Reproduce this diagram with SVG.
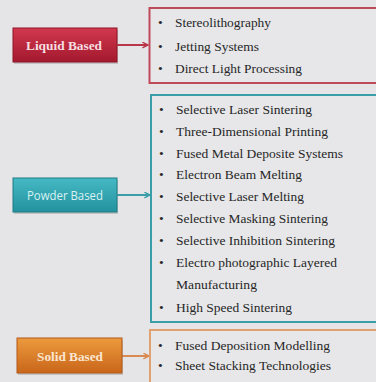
<svg xmlns="http://www.w3.org/2000/svg" width="376" height="382" viewBox="0 0 376 382">
<defs>
<linearGradient id="gRed" x1="0" y1="0" x2="0" y2="1">
<stop offset="0" stop-color="#d2384e"/><stop offset="1" stop-color="#a3192e"/>
</linearGradient>
<linearGradient id="gTeal" x1="0" y1="0" x2="0" y2="1">
<stop offset="0" stop-color="#45b9c4"/><stop offset="1" stop-color="#23929e"/>
</linearGradient>
<linearGradient id="gOrange" x1="0" y1="0" x2="0" y2="1">
<stop offset="0" stop-color="#ec9a3e"/><stop offset="1" stop-color="#c9661a"/>
</linearGradient>
<marker id="aRed" viewBox="0 0 10 10" refX="9" refY="5" markerWidth="7" markerHeight="7" orient="auto" markerUnits="userSpaceOnUse"><path d="M1,1 L9,5 L1,9" fill="none" stroke="#b8354a" stroke-width="2"/></marker>
<marker id="aTeal" viewBox="0 0 10 10" refX="9" refY="5" markerWidth="7" markerHeight="7" orient="auto" markerUnits="userSpaceOnUse"><path d="M1,1 L9,5 L1,9" fill="none" stroke="#3a9ea8" stroke-width="2"/></marker>
<marker id="aOrange" viewBox="0 0 10 10" refX="9" refY="5" markerWidth="7" markerHeight="7" orient="auto" markerUnits="userSpaceOnUse"><path d="M1,1 L9,5 L1,9" fill="none" stroke="#d98a52" stroke-width="2"/></marker>
</defs>
<style>
.item{font-size:13.5px;fill:#262626}
.bul{font-size:13.5px;fill:#262626}
.lblS{font-size:13.5px;font-weight:bold;text-anchor:middle}
.lblP{font-size:12.5px;text-anchor:middle;fill:#d9f1f2}
.shadow{fill:#9a9a9a;opacity:0.45}
</style>
<rect width="376" height="382" fill="#e5e5e7"/>
<g id="connectors">
<line x1="117" y1="45" x2="148" y2="45" stroke="#b8354a" stroke-width="2" marker-end="url(#aRed)"/>
<line x1="117" y1="195" x2="150" y2="195" stroke="#3a9ea8" stroke-width="2" marker-end="url(#aTeal)"/>
<line x1="122" y1="356" x2="149" y2="356" stroke="#d98a52" stroke-width="2" marker-end="url(#aOrange)"/>
</g>
<g id="liquid-label" font-family="Liberation Serif, serif">
<rect x="14" y="30" width="104" height="34" class="shadow"/>
<rect x="13" y="28" width="104" height="34" fill="url(#gRed)" stroke="#8e1526" stroke-width="1"/>
<text x="64" y="50" class="lblS" fill="#f6dde0" textLength="76" lengthAdjust="spacingAndGlyphs">Liquid Based</text>
</g>
<g id="liquid-list" font-family="Liberation Serif, serif">
<rect x="149.5" y="8" width="240" height="75" fill="#e7e7e9" stroke="#bf4a5a" stroke-width="2"/>
<text x="158" y="27" class="bul">•</text><text x="175" y="27" class="item" textLength="96" lengthAdjust="spacingAndGlyphs">Stereolithography</text>
<text x="158" y="51" class="bul">•</text><text x="175" y="51" class="item" textLength="84" lengthAdjust="spacingAndGlyphs">Jetting Systems</text>
<text x="158" y="73" class="bul">•</text><text x="175" y="73" class="item" textLength="127" lengthAdjust="spacingAndGlyphs">Direct Light Processing</text>
</g>
<g id="powder-label" font-family="Open Sans, Liberation Sans, sans-serif">
<rect x="14" y="180" width="104" height="34" class="shadow"/>
<rect x="13" y="178" width="104" height="34" fill="url(#gTeal)" stroke="#1c7c86" stroke-width="1"/>
<text x="65" y="200" class="lblP" textLength="76" lengthAdjust="spacingAndGlyphs">Powder Based</text>
</g>
<g id="powder-list" font-family="Liberation Serif, serif">
<rect x="151" y="95" width="240" height="227" fill="#e7e7e9" stroke="#3a9ea8" stroke-width="2"/>
<text x="159" y="114" class="bul">•</text><text x="176" y="114" class="item" textLength="136" lengthAdjust="spacingAndGlyphs">Selective Laser Sintering</text>
<text x="159" y="136" class="bul">•</text><text x="176" y="136" class="item" textLength="152" lengthAdjust="spacingAndGlyphs">Three-Dimensional Printing</text>
<text x="159" y="158" class="bul">•</text><text x="176" y="158" class="item" textLength="167" lengthAdjust="spacingAndGlyphs">Fused Metal Deposite Systems</text>
<text x="159" y="179" class="bul">•</text><text x="176" y="179" class="item" textLength="126" lengthAdjust="spacingAndGlyphs">Electron Beam Melting</text>
<text x="159" y="201" class="bul">•</text><text x="176" y="201" class="item" textLength="128" lengthAdjust="spacingAndGlyphs">Selective Laser Melting</text>
<text x="159" y="223" class="bul">•</text><text x="176" y="223" class="item" textLength="152" lengthAdjust="spacingAndGlyphs">Selective Masking Sintering</text>
<text x="159" y="245" class="bul">•</text><text x="176" y="245" class="item" textLength="159" lengthAdjust="spacingAndGlyphs">Selective Inhibition Sintering</text>
<text x="159" y="267" class="bul">•</text><text x="176" y="267" class="item" textLength="161" lengthAdjust="spacingAndGlyphs">Electro photographic Layered</text>
<text x="176" y="289" class="item" textLength="81" lengthAdjust="spacingAndGlyphs">Manufacturing</text>
<text x="159" y="312" class="bul">•</text><text x="176" y="312" class="item" textLength="116" lengthAdjust="spacingAndGlyphs">High Speed Sintering</text>
</g>
<g id="solid-label" font-family="Liberation Serif, serif">
<rect x="18" y="340" width="105" height="35" class="shadow"/>
<rect x="17" y="338" width="105" height="35" fill="url(#gOrange)" stroke="#b2581a" stroke-width="1"/>
<text x="70" y="361" class="lblS" fill="#fbe6d0" textLength="66" lengthAdjust="spacingAndGlyphs">Solid Based</text>
</g>
<g id="solid-list" font-family="Liberation Serif, serif">
<rect x="150" y="330" width="240" height="60" fill="#e7e7e9" stroke="#e0a070" stroke-width="2"/>
<text x="158" y="350" class="bul">•</text><text x="175" y="350" class="item" textLength="155" lengthAdjust="spacingAndGlyphs">Fused Deposition Modelling</text>
<text x="158" y="370" class="bul">•</text><text x="175" y="370" class="item" textLength="156" lengthAdjust="spacingAndGlyphs">Sheet Stacking Technologies</text>
</g>
</svg>
